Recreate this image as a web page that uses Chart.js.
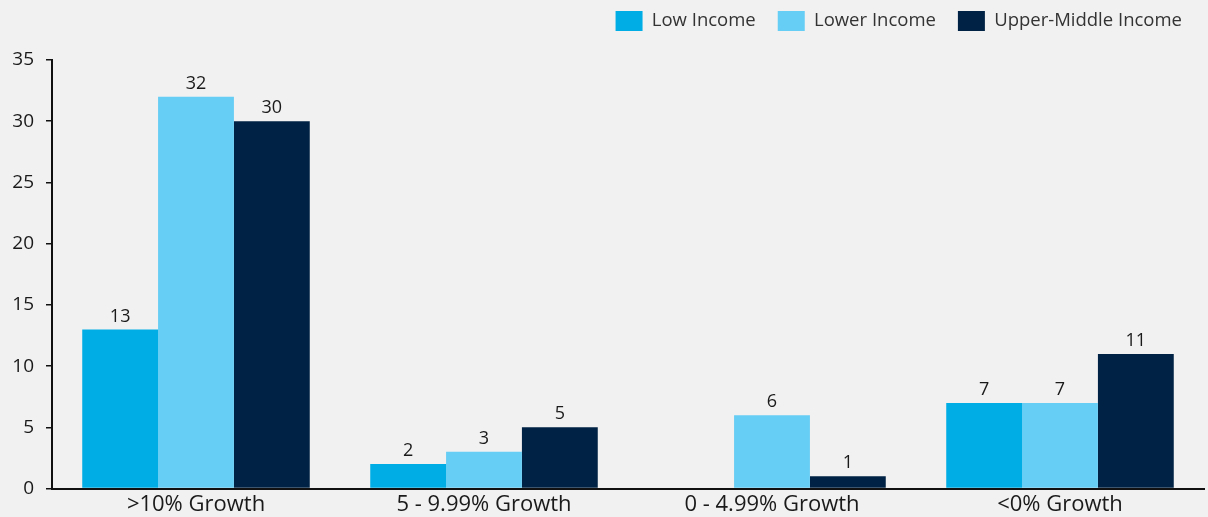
<!DOCTYPE html>
<html>
<head>
<meta charset="utf-8">
<script src="https://cdn.jsdelivr.net/npm/chart.js"></script>
<style>
  html, body { margin: 0; padding: 0; background: #f1f1f1; }
  #wrap { width: 1208px; height: 517px; }
</style>
</head>
<body>
<div id="wrap"><canvas id="growthChart"></canvas></div>
<script>
const categories = ['>10% Growth', '5 - 9.99% Growth', '0 - 4.99% Growth', '<0% Growth'];
const lowIncome = [13, 2, 0, 7];
const lowerIncome = [32, 3, 6, 7];
const upperMiddleIncome = [30, 5, 1, 11];
const yTicks = [0, 5, 10, 15, 20, 25, 30, 35];

const FONT = '"Open Sans", sans-serif';

// value labels above each bar, zero bars left blank
const barValues = {
    id: 'barValues',
    afterDatasetsDraw(chart) {
        const ctx = chart.ctx;
        ctx.save();
        ctx.font = '18px ' + FONT;
        ctx.fillStyle = '#1a1a1a';
        ctx.textAlign = 'center';
        ctx.textBaseline = 'bottom';
        chart.data.datasets.forEach((ds, i) => {
            chart.getDatasetMeta(i).data.forEach((bar, j) => {
                if (!ds.data[j]) return;
                ctx.fillText(ds.data[j], bar.x, bar.y - 4);
            });
        });
        ctx.restore();
    }
};

// extra room between the legend and the plot
const legendGap = {
    id: 'legendGap',
    afterInit(chart) {
        const legend = chart.legend;
        const fit = legend.fit;
        legend.fit = function () {
            fit.call(legend);
            legend.height += 19;
        };
    }
};

new Chart(document.getElementById('growthChart'), {
    type: 'bar',
    data: {
        labels: categories,
        datasets: [
            { label: 'Low Income', data: lowIncome, backgroundColor: '#00aee5' },
            { label: 'Lower Income', data: lowerIncome, backgroundColor: '#66cdf5' },
            { label: 'Upper-Middle Income', data: upperMiddleIncome, backgroundColor: '#002244' }
        ]
    },
    options: {
        responsive: true,
        maintainAspectRatio: false,
        animation: false,
        layout: { padding: { top: -11, right: 4, bottom: 4, left: 0 } },
        datasets: {
            bar: { barPercentage: 1, categoryPercentage: 0.79 }
        },
        scales: {
            x: {
                grid: { display: false },
                border: { display: true, color: '#111', width: 2 },
                ticks: { color: '#1a1a1a', font: { family: FONT, size: 22 }, padding: -5 }
            },
            y: {
                min: 0,
                max: 35,
                afterBuildTicks: (scale) => { scale.ticks = yTicks.map(v => ({ value: v })); },
                afterFit: (scale) => { scale.width = 52; },
                grid: { drawOnChartArea: false, drawTicks: true, tickLength: 6, color: '#111', lineWidth: 1.5 },
                border: { display: true, color: '#111', width: 2 },
                ticks: { color: '#1a1a1a', font: { family: FONT, size: 19 }, padding: 12 }
            }
        },
        plugins: {
            legend: {
                position: 'top',
                align: 'end',
                labels: {
                    boxWidth: 27,
                    boxHeight: 20,
                    color: '#333',
                    font: { family: FONT, size: 18.5 },
                    padding: 22
                }
            },
            tooltip: { enabled: false }
        }
    },
    plugins: [barValues, legendGap]
});
</script>
</body>
</html>
